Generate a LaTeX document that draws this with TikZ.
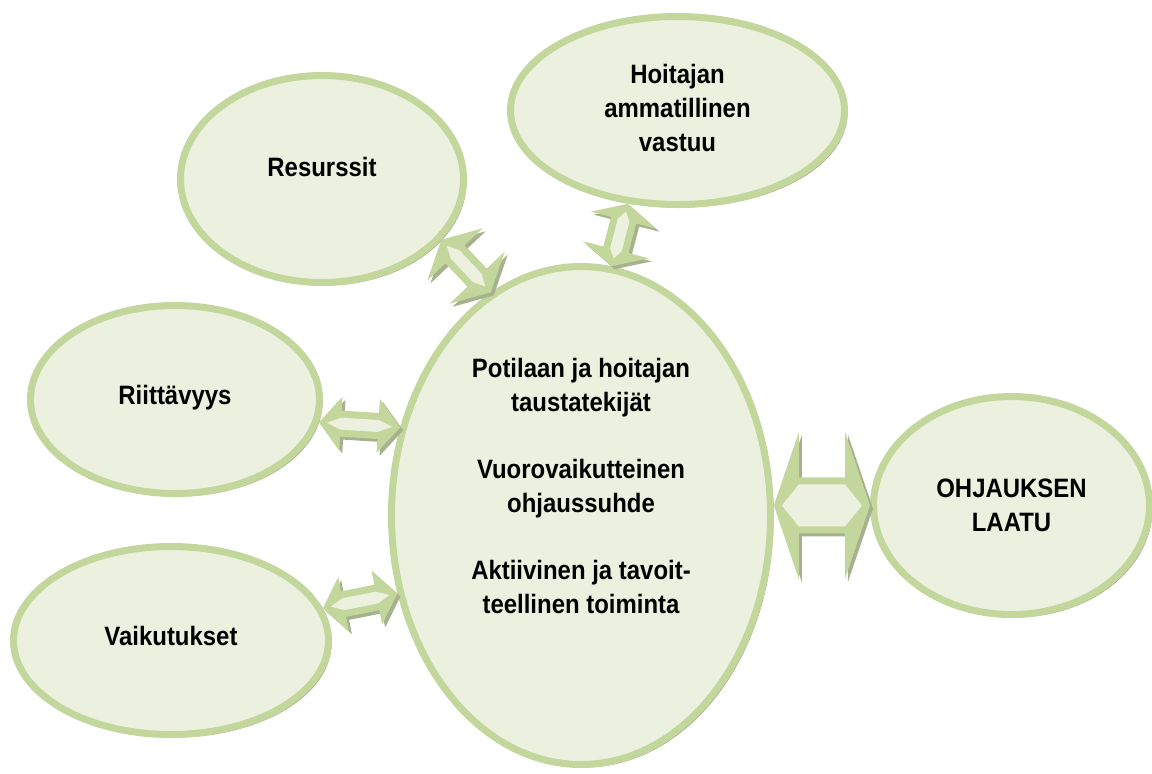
\documentclass[tikz,border=0pt]{standalone}
\usepackage{fontspec}
\setmainfont{Liberation Sans}[FakeStretch=0.9]
\usetikzlibrary{positioning,shapes.geometric,calc,shadows}
\definecolor{rimgreen}{HTML}{C3D69B}
\definecolor{palegreen}{HTML}{EBF1DE}
\definecolor{shadowgreen}{HTML}{A6B18E}
\tikzset{
  bubble/.style={ellipse,draw=rimgreen,fill=palegreen,line width=3.5pt,align=center,
    font=\fontsize{13.3pt}{17pt}\selectfont\bfseries,
    drop shadow={shadow xshift=1.5pt,shadow yshift=-1.5pt,fill=shadowgreen,opacity=1}},
  arrowbody/.style={fill=rimgreen,
    drop shadow={shadow xshift=1.5pt,shadow yshift=-1.5pt,fill=shadowgreen,opacity=1}},
  arrowcore/.style={fill=palegreen}
}
\newcommand{\dblarrow}[5]{%
  \pgfmathsetmacro{\arrowiw}{#1-3.5}%
  \coordinate (as) at (#4);
  \coordinate (ae) at (#5);
  \coordinate (hs) at ($(as)!#3pt!(ae)$);
  \coordinate (he) at ($(ae)!#3pt!(as)$);
  \fill[arrowbody] (as) -- ($(hs)!#2pt!90:(ae)$) -- ($(hs)!#1pt!90:(ae)$)
    -- ($(he)!#1pt!90:(ae)$) -- ($(he)!#2pt!90:(ae)$) -- (ae)
    -- ($(he)!#2pt!-90:(ae)$) -- ($(he)!#1pt!-90:(ae)$)
    -- ($(hs)!#1pt!-90:(ae)$) -- ($(hs)!#2pt!-90:(ae)$) -- cycle;
  \fill[arrowcore] ($(as)!4pt!(ae)$) -- ($(hs)!\arrowiw pt!90:(ae)$) -- ($(he)!\arrowiw pt!90:(ae)$)
    -- ($(ae)!4pt!(as)$) -- ($(he)!\arrowiw pt!-90:(ae)$) -- ($(hs)!\arrowiw pt!-90:(ae)$) -- cycle;
}

\begin{document}
\begin{tikzpicture}[x=0.5pt,y=-0.5pt]
    \useasboundingbox (0,0) rectangle (1152,773);
    \node[bubble, minimum width=189.5pt, minimum height=249pt, text depth=30pt](mid) at (581,515.5){Potilaan ja hoitajan\\taustatekijät\\[16.5pt]Vuorovaikutteinen\\ohjaussuhde\\[16.5pt]Aktiivinen ja tavoit-\\teellinen toiminta};
    \node[bubble, minimum width=138pt, minimum height=109pt, node distance=48pt, yshift=5pt](ohj)[right =of mid]{OHJAUKSEN\\LAATU};
    \node[bubble, minimum width=141.5pt, minimum height=103.5pt, text depth=12pt](res) at (322,179){Resurssit};
    \node[bubble, minimum width=167pt, minimum height=94pt, text depth=3pt](hoi) at (677.5,110.5){Hoitajan\\ammatillinen\\vastuu};
    \node[bubble, minimum width=144.5pt, minimum height=94pt, text depth=5pt](riit) at (175,399.5){Riittävyys};
    \node[bubble, minimum width=157.5pt, minimum height=94pt, text depth=5pt](vaik) at (171,640.5){Vaikutukset};
    \dblarrow{14}{36.75}{12.5}{mid.3}{ohj.180}
    \dblarrow{6.5}{13.5}{11}{riit.-9}{mid.154}
    \dblarrow{6.5}{13.75}{10.5}{vaik.12}{mid.203}
    \dblarrow{6.5}{19}{10}{res.-27}{mid.112}
    \dblarrow{6.5}{17}{8.5}{hoi.-118}{mid.83}
\end{tikzpicture}
\end{document}
